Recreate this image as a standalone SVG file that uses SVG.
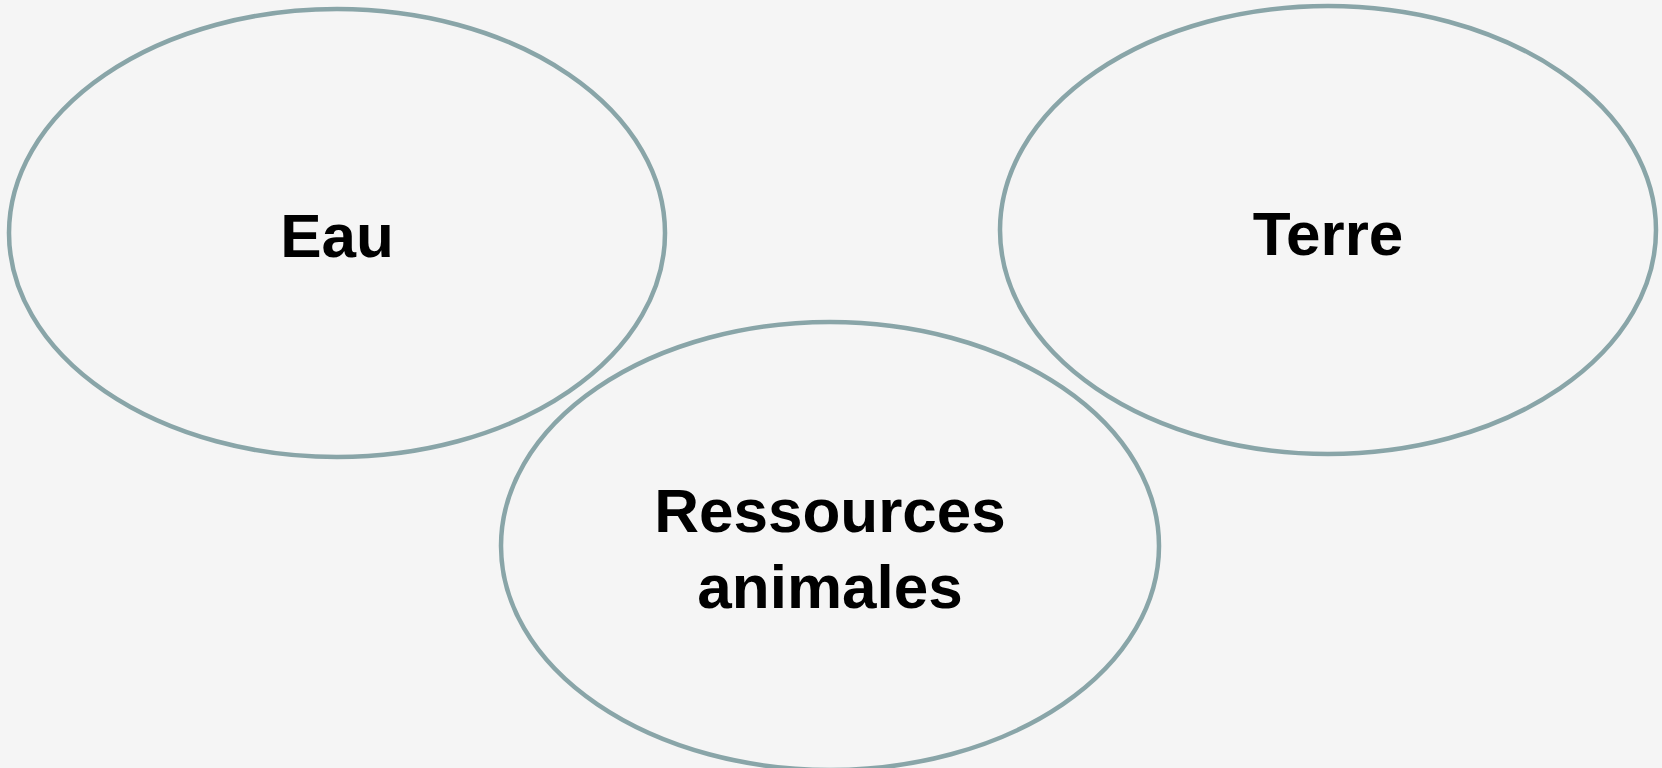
<svg xmlns="http://www.w3.org/2000/svg" width="1662" height="768" viewBox="0 0 1662 768">
<style>
.n{fill:none;stroke:#89a5a8;stroke-width:4.5}
.t{font-family:"Liberation Sans",Arial,sans-serif;font-weight:bold;font-size:62px;fill:#000;text-anchor:middle}
</style>
<rect width="1662" height="768" fill="#f5f5f5"/>
<g id="connectors"></g>
<g id="eau"><ellipse class="n" cx="337" cy="233" rx="328" ry="224"/><text class="t" x="337" y="257">Eau</text></g>
<g id="terre"><ellipse class="n" cx="1328" cy="230" rx="328" ry="224"/><text class="t" x="1328" y="255">Terre</text></g>
<g id="ressources"><ellipse class="n" cx="830" cy="546" rx="329" ry="224"/><text class="t" x="830" y="532">Ressources</text><text class="t" x="830" y="608">animales</text></g>
</svg>
